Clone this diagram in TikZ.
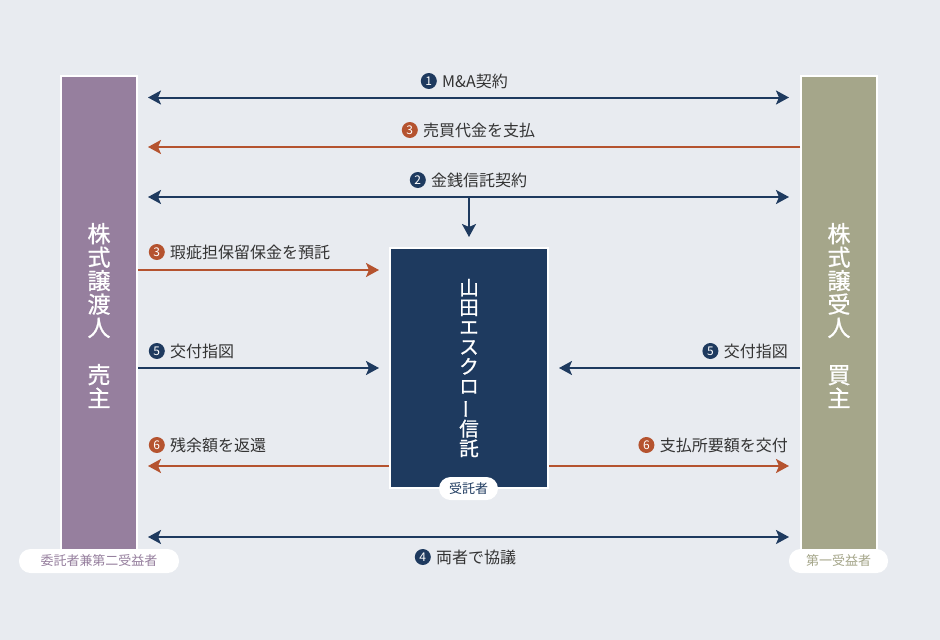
\documentclass[tikz,border=0pt]{standalone}
\usepackage{fontspec}
\setmainfont{Noto Sans CJK JP}
\newfontfamily\medfont{Noto Sans CJK JP}[FakeBold=0.9]
\usetikzlibrary{arrows.meta,positioning}
\definecolor{bg}{HTML}{E8EBF0}
\definecolor{navy}{HTML}{1E3A5F}
\definecolor{rust}{HTML}{B5532F}
\definecolor{mauve}{HTML}{967F9E}
\definecolor{olive}{HTML}{A5A68A}
\definecolor{inkc}{HTML}{333333}
\tikzset{
  myhead/.tip={Stealth[length=13pt,width=14pt,inset=3pt]},
  colbox/.style={draw=white, line width=2pt, minimum width=76pt, minimum height=479pt,
    inner sep=0pt, text=white, align=center, font=\medfont\fontsize{23}{23.5}\selectfont},
  escbox/.style={draw=white, line width=2pt, fill=navy, minimum width=158pt, minimum height=240pt,
    inner sep=0pt, text=white, align=center, font=\medfont\fontsize{19.5}{19.7}\selectfont},
  pill/.style={fill=white, rounded corners=11.5pt, minimum height=#1, inner sep=0pt,
    font=\fontsize{13}{13}\selectfont},
  navyln/.style={draw=navy, line width=2pt},
  rustln/.style={draw=rust, line width=2pt},
  lbl/.style={inner sep=0pt, text=inkc, font=\fontsize{16}{16}\selectfont},
  num/.style={circle, fill=#1, text=white, inner sep=0pt, minimum size=16pt,
    font=\fontsize{12}{12}\selectfont},
}
\begin{document}
\begin{tikzpicture}[x=1pt,y=-1pt]
\useasboundingbox (0,0) rectangle (940,640);
\fill[bg] (0,0) rectangle (940,640);

% columns
\node[colbox, fill=mauve] (seller) at (99,315.5) {株\\式\\譲\\渡\\人\\\mbox{}\\売\\主};
\node[colbox, fill=olive] (buyer) at (839,315.5) {株\\式\\譲\\受\\人\\\mbox{}\\買\\主};
\node[escbox] (escrow) at (469,368) {山\\田\\エ\\ス\\ク\\ロ\\\rotatebox[origin=c]{90}{ー}\\信\\託};

% tags
\node[pill=24pt, minimum width=160pt, text=mauve] (tagL) at (99,561) {委託者兼第二受益者};
\node[pill=24pt, minimum width=99pt, text=olive] (tagR) at (838.5,561) {第一受益者};
\node[pill=23pt, minimum width=59pt, text=navy] (tagC) at (468.5,488.5) {受託者};

% rows
\coordinate (r1) at (0,97.5);
\coordinate (r2) at (0,147);
\coordinate (r3) at (0,197);
\coordinate (r4) at (0,270);
\coordinate (r5) at (0,368);
\coordinate (r6) at (0,466);
\coordinate (r7) at (0,537);
\coordinate (drop) at (469,197);

\draw[navyln, myhead-myhead, shorten <=10pt, shorten >=11pt] (seller.east |- r1) -- (buyer.west |- r1);
\draw[rustln, -myhead, shorten >=10pt] (buyer.west |- r2) -- (seller.east |- r2);
\draw[navyln, myhead-myhead, shorten <=10pt, shorten >=11pt] (seller.east |- r3) -- (buyer.west |- r3);
\draw[navyln, -myhead, shorten >=10pt] (drop) -- (escrow.north);
\draw[rustln, -myhead, shorten >=10pt] (seller.east |- r4) -- (escrow.west |- r4);
\draw[navyln, -myhead, shorten >=10pt] (seller.east |- r5) -- (escrow.west |- r5);
\draw[navyln, -myhead, shorten >=10pt] (buyer.west |- r5) -- (escrow.east |- r5);
\draw[rustln, -myhead, shorten >=10pt] (escrow.west |- r6) -- (seller.east |- r6);
\draw[rustln, -myhead, shorten >=11pt] (escrow.east |- r6) -- (buyer.west |- r6);
\draw[navyln, myhead-myhead, shorten <=10pt, shorten >=11pt] (seller.east |- r7) -- (buyer.west |- r7);

% labels
\node[lbl, anchor=west] (l1) at (442,81) {M\&A契約};
\node[num=navy, left=5pt of l1] (n1) {1};
\node[lbl, anchor=west] (l2) at (423,130) {売買代金を支払};
\node[num=rust, left=5pt of l2] (n2) {3};
\node[lbl, anchor=west] (l3) at (431,180) {金銭信託契約};
\node[num=navy, left=5pt of l3] (n3) {2};
\node[lbl, anchor=west] (l4) at (170,252) {瑕疵担保留保金を預託};
\node[num=rust, left=5pt of l4] (n4) {3};
\node[lbl, anchor=west] (l5) at (170,351) {交付指図};
\node[num=navy, left=5pt of l5] (n5) {5};
\node[lbl, anchor=east] (l6) at (788,351) {交付指図};
\node[num=navy, left=5pt of l6] (n6) {5};
\node[lbl, anchor=west] (l7) at (170,445) {残余額を返還};
\node[num=rust, left=5pt of l7] (n7) {6};
\node[lbl, anchor=east] (l8) at (788,445) {支払所要額を交付};
\node[num=rust, left=5pt of l8] (n8) {6};
\node[lbl, anchor=west] (l9) at (436,557) {両者で協議};
\node[num=navy, left=5pt of l9] (n9) {4};
\end{tikzpicture}
\end{document}
